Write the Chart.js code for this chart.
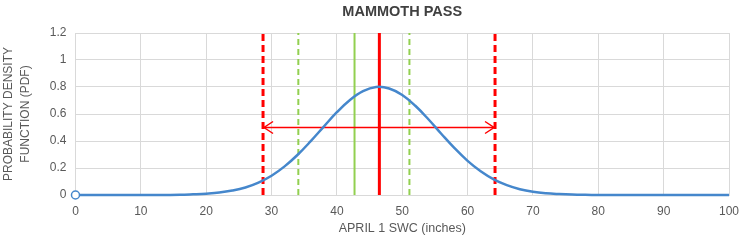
<!DOCTYPE html>
<html>
<head>
<meta charset="utf-8">
<script src="https://cdn.jsdelivr.net/npm/chart.js@4/dist/chart.umd.min.js"></script>
<style>
  html, body { margin: 0; padding: 0; background: #fff; }
  #wrap { width: 743px; height: 241px; }
</style>
</head>
<body>
<div id="wrap"><canvas id="pdfChart" width="743" height="241"></canvas></div>
<script>
// april 1 swc (inches) and the pdf
const swc = [0, 2, 4, 6, 8, 10, 12, 14, 16, 18, 20, 22, 24, 26, 28, 30, 32, 34, 36, 38, 40,
  42, 44, 46, 48, 50, 52, 54, 56, 58, 60, 62, 64, 66, 68, 70, 72, 74, 76, 78, 80,
  82, 84, 86, 88, 90, 92, 94, 96, 98, 100];
const pdf = [0, 0, 0, 0, 0, 0, 0, 0, 0.001, 0.005, 0.01, 0.018, 0.033, 0.056, 0.092, 0.143, 0.212, 0.298, 0.399, 0.507, 0.613,
  0.704, 0.769, 0.8, 0.789, 0.741, 0.661, 0.561, 0.452, 0.347, 0.253, 0.176, 0.116, 0.073, 0.043, 0.024, 0.013, 0.007, 0.003, 0.001, 0,
  0, 0, 0, 0, 0, 0, 0, 0, 0, 0];

const xTicks = [0, 10, 20, 30, 40, 50, 60, 70, 80, 90, 100];
const yTicks = [0, 0.2, 0.4, 0.6, 0.8, 1, 1.2];

const meanLine = 46.5;          // red solid
const rangeLines = [28.7, 64.2]; // red dashed
const medianLine = 42.7;        // green solid
const quartLines = [34.1, 51.1]; // green dashed
const arrowY = 0.5;

const chartTitle = "MAMMOTH PASS";
const yTop = yTicks[yTicks.length - 1];

function vline(x, color, width, dash) {
  return {
    data: [{ x: x, y: 0 }, { x: x, y: yTop }],
    borderColor: color,
    borderWidth: width,
    borderDash: dash,
    pointRadius: 0,
    showLine: true,
    order: 2
  };
}

// open arrow heads on the range line + title centred over the plot area
const extras = {
  id: "extras",
  afterDatasetsDraw(chart) {
    const ds = chart.data.datasets.findIndex(d => d.label === "range");
    const pts = chart.getDatasetMeta(ds).data;
    const c = chart.ctx;
    c.save();
    c.strokeStyle = "#ff0000";
    c.lineWidth = 1.5;
    const a = pts[0], b = pts[1];
    c.beginPath();
    c.moveTo(a.x + 10, a.y - 6); c.lineTo(a.x + 1, a.y); c.lineTo(a.x + 10, a.y + 6);
    c.moveTo(b.x - 10, b.y - 6); c.lineTo(b.x - 1, b.y); c.lineTo(b.x - 10, b.y + 6);
    c.stroke();

    const area = chart.chartArea;
    c.fillStyle = "#404040";
    c.font = "bold 14.5px 'Liberation Sans'";
    c.textAlign = "center";
    c.textBaseline = "middle";
    c.fillText(chartTitle, (area.left + area.right) / 2, 12);
    c.restore();
  }
};

const ctx = document.getElementById("pdfChart").getContext("2d");
const pdfChart = new Chart(ctx, {
  type: "scatter",
  data: {
    datasets: [
      {
        label: "pdf",
        data: swc.map((x, i) => ({ x: x, y: pdf[i] })),
        borderColor: "#4587cc",
        borderWidth: 2.5,
        showLine: true,
        tension: 0.4,
        clip: false,
        pointRadius: c => (c.dataIndex === 0 ? 4 : 0),
        pointBorderColor: "#4587cc",
        pointBackgroundColor: "#ffffff",
        pointBorderWidth: 1.5,
        order: 0
      },
      vline(rangeLines[0], "#ff0000", 3, [7, 4]),
      vline(rangeLines[1], "#ff0000", 3, [7, 4]),
      vline(quartLines[0], "#92d050", 2, [6, 4]),
      vline(quartLines[1], "#92d050", 2, [6, 4]),
      vline(medianLine, "#92d050", 2, []),
      vline(meanLine, "#ff0000", 3, []),
      {
        label: "range",
        data: [{ x: rangeLines[0], y: arrowY }, { x: rangeLines[1], y: arrowY }],
        borderColor: "#ff0000",
        borderWidth: 1.5,
        showLine: true,
        pointRadius: 0,
        order: 1
      }
    ]
  },
  options: {
    responsive: false,
    animation: false,
    layout: { padding: { left: 0, right: 0, top: 33, bottom: 0 } },
    plugins: {
      legend: { display: false },
      tooltip: { enabled: false },
      title: { display: false }
    },
    scales: {
      x: {
        type: "linear",
        min: 0,
        max: 100,
        afterBuildTicks: s => { s.ticks = xTicks.map(v => ({ value: v })); },
        afterFit: s => { s.paddingRight = 14; s.paddingLeft = 0; },
        grid: { color: "#d9d9d9", drawTicks: false },
        border: { color: "#d9d9d9" },
        ticks: {
          color: "#595959",
          padding: 11,
          maxRotation: 0,
          font: { family: "Liberation Sans", size: 12, lineHeight: 1 }
        },
        title: {
          display: true,
          text: "APRIL 1 SWC (inches)",
          color: "#595959",
          padding: { top: -7, bottom: 6.5 },
          font: { family: "Liberation Sans", size: 12.5, lineHeight: 1 }
        }
      },
      y: {
        min: 0,
        max: yTop,
        afterBuildTicks: s => { s.ticks = yTicks.map(v => ({ value: v })); },
        grid: { color: "#d9d9d9", drawTicks: false },
        border: { color: "#d9d9d9" },
        ticks: {
          color: "#595959",
          padding: 9,
          callback: v => String(v),
          font: { family: "Liberation Sans", size: 12 }
        },
        title: {
          display: true,
          text: ["PROBABILITY DENSITY", "FUNCTION (PDF)"],
          color: "#595959",
          padding: { top: 0, bottom: 6 },
          font: { family: "Liberation Sans", size: 12, lineHeight: 1.45 }
        }
      }
    }
  },
  plugins: [extras]
});
</script>
</body>
</html>
